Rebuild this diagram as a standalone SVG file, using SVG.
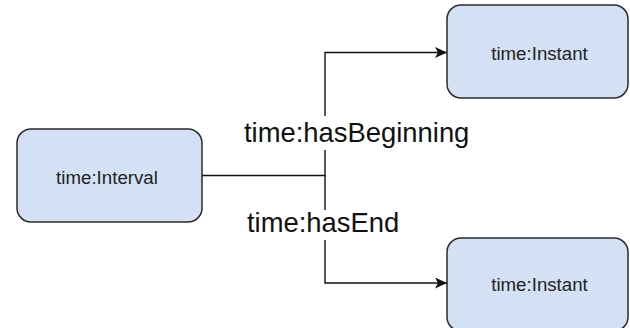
<svg xmlns="http://www.w3.org/2000/svg" width="630" height="328" viewBox="0 0 630 328">
<style>
.node rect { fill: #d4e1f5; stroke: #2a2a2a; stroke-width: 1.5; }
.node text { font-family: "Liberation Sans", Arial, sans-serif; font-size: 18.7px; fill: #222; text-anchor: middle; }
.edge { fill: none; stroke: #111; stroke-width: 1.4; }
.lbl { font-family: "Liberation Sans", Arial, sans-serif; font-size: 27.4px; fill: #111; }
</style>
<defs>
<marker id="arr" markerWidth="13" markerHeight="11" refX="12" refY="5.5" orient="auto" markerUnits="userSpaceOnUse">
<path d="M0,0 L12,5.5 L0,11 L3,5.5 Z" fill="#111"/>
</marker>
</defs>
<rect width="630" height="328" fill="#ffffff"/>
<g id="connectors">
<path class="edge" d="M202,175.5 H325 V52.5 H447" marker-end="url(#arr)"/>
<path class="edge" d="M325,175.5 V283 H447" marker-end="url(#arr)"/>
<rect x="242" y="116" width="232" height="34" fill="#ffffff"/>
<text class="lbl" x="244" y="142">time:hasBeginning</text>
<rect x="245" y="210" width="156" height="30" fill="#ffffff"/>
<text class="lbl" x="247" y="232">time:hasEnd</text>
</g>
<g id="interval" class="node">
<rect x="17" y="129" width="185" height="93" rx="14" ry="14"/>
<text x="107" y="184">time:Interval</text>
</g>
<g id="instant1" class="node">
<rect x="447" y="5" width="181" height="93" rx="14" ry="14"/>
<text x="539.5" y="60">time:Instant</text>
</g>
<g id="instant2" class="node">
<rect x="447" y="238" width="181" height="93" rx="14" ry="14"/>
<text x="539.5" y="291">time:Instant</text>
</g>
</svg>
